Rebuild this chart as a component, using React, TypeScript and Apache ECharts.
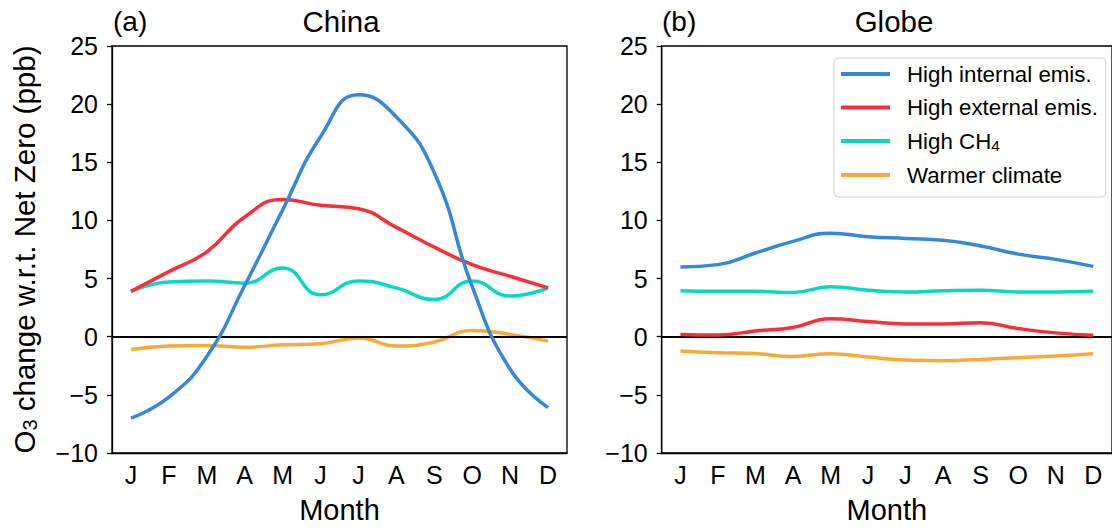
import React, { useEffect, useRef } from "react";
import * as echarts from "echarts";

const months = ["J", "F", "M", "A", "M", "J", "J", "A", "S", "O", "N", "D"];
const yTicks = { min: -10, max: 25, interval: 5 };

const seriesNames = ["High internal emis.", "High external emis.", "High CH4", "Warmer climate"];
const colors = ["#3388dd", "#fe2c36", "#05d9c5", "#f9a935"];

// China
const chinaInternal = [-7.0, -5.2, -1.7, 4.4, 10.9, 17.2, 20.8, 18.9, 14.1, 4.3, -2.8, -6.1];
const chinaExternal = [3.9, 5.6, 7.3, 10.3, 11.8, 11.3, 11.0, 9.4, 7.7, 6.2, 5.2, 4.2];
const chinaCH4 = [3.9, 4.7, 4.8, 4.6, 5.9, 3.6, 4.8, 4.2, 3.2, 4.8, 3.5, 4.2];
const chinaClimate = [-1.1, -0.8, -0.75, -0.9, -0.7, -0.6, -0.1, -0.8, -0.45, 0.53, 0.2, -0.38];

// Globe
const globeInternal = [6.0, 6.2, 7.2, 8.2, 8.9, 8.6, 8.45, 8.3, 7.8, 7.1, 6.65, 6.05];
const globeExternal = [0.2, 0.15, 0.5, 0.8, 1.55, 1.3, 1.1, 1.1, 1.2, 0.7, 0.33, 0.13];
const globeCH4 = [3.95, 3.9, 3.9, 3.8, 4.3, 4.0, 3.85, 3.95, 4.0, 3.85, 3.85, 3.9];
const globeClimate = [-1.23, -1.37, -1.45, -1.7, -1.46, -1.75, -2.0, -2.06, -1.95, -1.8, -1.66, -1.46];

const FONT = "'Liberation Sans', Arial, Helvetica, sans-serif";

export default function App() {
  const ref = useRef<HTMLDivElement>(null);

  useEffect(() => {
    if (!ref.current) return;
    const chart = echarts.init(ref.current, undefined, { renderer: "svg" });

    const grids = [
      { left: 112, top: 46, width: 455, height: 410 },
      { left: 661.7, top: 46, width: 458, height: 410 },
    ];

    const minus = (v: number) => (v < 0 ? "\u2212" + Math.abs(v) : String(v));

    const xAxes = grids.map((_, i) => ({
      type: "category",
      gridIndex: i,
      data: months,
      boundaryGap: true,
      name: "Month",
      nameLocation: "middle",
      nameGap: 42,
      nameTextStyle: { fontSize: 29, color: "#000", fontFamily: FONT },
      axisLine: { onZero: false, lineStyle: { color: "#000", width: 1.3 } },
      axisTick: { alignWithLabel: true, length: 5, lineStyle: { color: "#000", width: 1.3 } },
      axisLabel: { fontSize: 25, color: "#000", margin: 9, fontFamily: FONT, interval: 0 },
      splitLine: { show: false },
    }));

    const yAxes = grids.map((_, i) => ({
      type: "value",
      gridIndex: i,
      min: yTicks.min,
      max: yTicks.max,
      interval: yTicks.interval,
      name: i === 0 ? "O{sub|3} change w.r.t. Net Zero (ppb)" : "",
      nameLocation: "middle",
      nameGap: 72,
      nameTextStyle: {
        fontSize: 29.5,
        color: "#000",
        fontFamily: FONT,
        rich: { sub: { fontSize: 20, fontFamily: FONT, color: "#000", padding: [12, 0, 0, 0] } },
      },
      axisLine: { show: true, lineStyle: { color: "#000", width: 1.3 } },
      axisTick: { show: true, length: 5, lineStyle: { color: "#000", width: 1.3 } },
      axisLabel: { fontSize: 25, color: "#000", margin: 14, fontFamily: FONT, formatter: minus },
      splitLine: { show: false },
    }));

    const panels = [
      [chinaInternal, chinaExternal, chinaCH4, chinaClimate],
      [globeInternal, globeExternal, globeCH4, globeClimate],
    ];

    const series: any[] = [];
    panels.forEach((data, gi) => {
      series.push({
        type: "line",
        xAxisIndex: gi,
        yAxisIndex: gi,
        data: [],
        silent: true,
        z: 1,
        markLine: {
          silent: true,
          symbol: "none",
          label: { show: false },
          lineStyle: { color: "#000", width: 1.8, type: "solid" },
          data: [{ yAxis: 0 }],
        },
      });
      data.forEach((vals, si) => {
        series.push({
          type: "line",
          name: seriesNames[si],
          xAxisIndex: gi,
          yAxisIndex: gi,
          data: vals,
          smooth: 0.5,
          showSymbol: false,
          symbol: "none",
          z: 6 - si,
          lineStyle: { color: colors[si], width: 3.5 },
          itemStyle: { color: colors[si] },
        });
      });
    });

    chart.setOption({
      animation: false,
      textStyle: { fontFamily: FONT },
      grid: grids.map((g) => ({ ...g, show: true, borderColor: "#000", borderWidth: 1.3, backgroundColor: "transparent" })),
      xAxis: xAxes,
      yAxis: yAxes,
      legend: {
        orient: "vertical",
        left: 834,
        top: 58,
        data: seriesNames,
        icon: "rect",
        itemWidth: 49,
        itemHeight: 4,
        itemGap: 9.5,
        padding: [4, 8, 10, 7],
        backgroundColor: "#fff",
        borderColor: "#d0d0d0",
        borderWidth: 1,
        borderRadius: 4,
        formatter: (n: string) => (n === "High CH4" ? "High CH{sub|4}" : n),
        textStyle: {
          fontSize: 22.3,
          color: "#000",
          fontFamily: FONT,
          lineHeight: 24,
          padding: [0, 0, 0, 12],
          rich: { sub: { fontSize: 15.5, fontFamily: FONT, color: "#000", padding: [9, 0, 0, 0] } },
        },
      },
      graphic: [
        { type: "text", x: 113, y: 21, style: { text: "(a)", fontSize: 28, fontFamily: FONT, fill: "#000", textAlign: "left", textVerticalAlign: "middle" } },
        { type: "text", x: 341, y: 21, style: { text: "China", fontSize: 29.5, fontFamily: FONT, fill: "#000", textAlign: "center", textVerticalAlign: "middle" } },
        { type: "text", x: 662, y: 21, style: { text: "(b)", fontSize: 28, fontFamily: FONT, fill: "#000", textAlign: "left", textVerticalAlign: "middle" } },
        { type: "text", x: 894, y: 21, style: { text: "Globe", fontSize: 29.5, fontFamily: FONT, fill: "#000", textAlign: "center", textVerticalAlign: "middle" } },
      ],
      series,
    });

    return () => chart.dispose();
  }, []);

  return (
    <div
      ref={ref}
      style={{ position: "fixed", left: 0, top: 0, width: 1112, height: 529, background: "#fff" }}
    />
  );
}
